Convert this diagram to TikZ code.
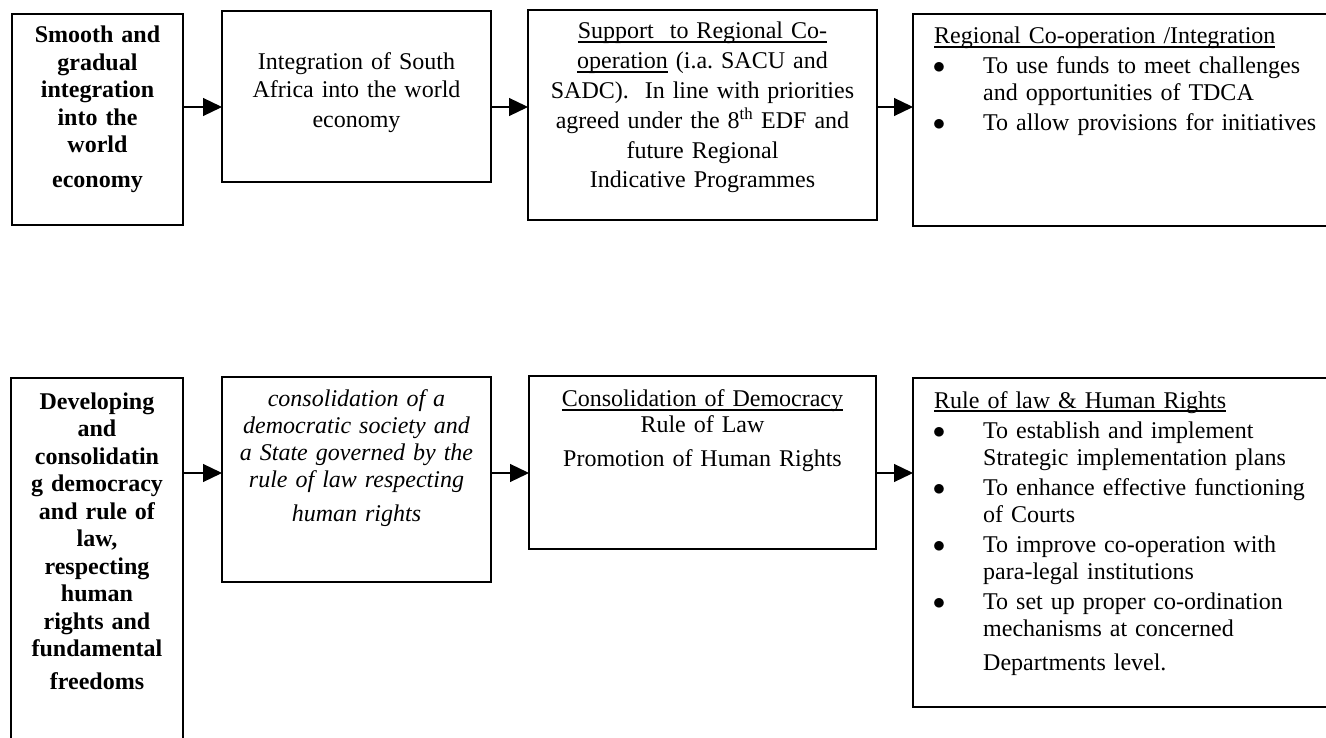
\documentclass[tikz,border=0pt]{standalone}
\usepackage{fontspec}
\setmainfont{Liberation Serif}
\usetikzlibrary{arrows.meta}
\newcommand{\undertext}[1]{\leavevmode\setbox0\hbox{#1}\rlap{\rule[-4.3pt]{\wd0}{2pt}}\box0\relax}
\newcommand{\bitem}{\hspace*{5pt}\makebox[0pt]{$\bullet$}\hspace*{44pt}}
\newcommand{\bcont}{\hspace*{49pt}}
\begin{document}
\begin{tikzpicture}[x=1pt, y=-1pt,
    box/.style={draw, line width=1.9pt, inner sep=0pt, outer sep=0pt, anchor=north west},
    lbl/.style={inner sep=0pt, anchor=base, align=center, font=\fontsize{24}{27.5}\selectfont},
    lbll/.style={lbl, anchor=base west, align=left, text width=400pt},
    arr/.style={line width=1.2pt, -{Triangle[length=19pt, width=18pt]}}]
        \useasboundingbox (0,0) rectangle (1326,738);
        \clip (0,0) rectangle (1326,738);

        \node[box, minimum width=171pt, minimum height=211pt] at (12,14)   (smooth) {};
        \node[box, minimum width=269pt, minimum height=171pt] at (222,11)  (integr) {};
        \node[box, minimum width=349pt, minimum height=210pt] at (528,10)  (support) {};
        \node[box, minimum width=450pt, minimum height=212pt] at (913,14)  (regional) {};
        \node[box, minimum width=172pt, minimum height=400pt] at (11,378)  (develop) {};
        \node[box, minimum width=269pt, minimum height=205pt] at (222,377) (consol) {};
        \node[box, minimum width=347pt, minimum height=173pt] at (529,376) (democ) {};
        \node[box, minimum width=450pt, minimum height=329pt] at (913,378) (rulelaw) {};

        \node[lbl, text width=165pt, font=\fontsize{24}{27.5}\selectfont\bfseries] at (97.5,43) (smooth-t)
            {Smooth and\\ gradual\\ integration\\ into the\\ world\\[7.5pt] economy};
        \node[lbl, text width=260pt] at (356.5,70) (integr-t)
            {Integration of South\\ Africa into the world\\[3pt] economy};
        \node[lbl, text width=340pt, font=\fontsize{24}{29.8}\selectfont] at (702.5,39) (support-t)
            {\undertext{Support\ \ to Regional Co-}\\ \undertext{operation} (i.a.\ SACU and\\ SADC).\ \ In line with priorities\\ agreed under the 8\textsuperscript{th} EDF and\\ future Regional\\ Indicative Programmes};
        \node[lbll] at (934,43.5) (regional-t)
            {\undertext{Regional Co-operation /Integration}\\[2.5pt]
             \bitem To use funds to meet challenges\\ \bcont and opportunities of TDCA\\[2.5pt]
             \bitem To allow provisions for initiatives};

        \node[lbl, text width=166pt, font=\fontsize{24}{27.5}\selectfont\bfseries] at (97,409) (develop-t)
            {Developing\\ and\\ consolidatin\\ g democracy\\ and rule of\\ law,\\ respecting\\ human\\ rights and\\ fundamental\\[5.5pt] freedoms};
        \node[lbl, text width=260pt, font=\fontsize{24}{27.3}\selectfont\itshape] at (356.5,406) (consol-t)
            {consolidation of a\\ democratic society and\\ a State governed by the\\ rule of law respecting\\[6.5pt] human rights};
        \node[lbl, text width=340pt] at (702.5,406.5) (democ-t)
            {\undertext{Consolidation of Democracy}\\[-1.5pt] Rule of Law\\[6.5pt] Promotion of Human Rights};
        \node[lbll] at (934,408) (rulelaw-t)
            {\undertext{Rule of law \& Human Rights}\\[2.5pt]
             \bitem To establish and implement\\ \bcont Strategic implementation plans\\[2pt]
             \bitem To enhance effective functioning\\ \bcont of Courts\\[2pt]
             \bitem To improve co-operation with\\ \bcont para-legal institutions\\[2pt]
             \bitem To set up proper co-ordination\\ \bcont mechanisms at concerned\\[6pt]
             \bcont Departments level.};

        \coordinate (toprow) at (0,107);
        \coordinate (botrow) at (0,473);
        \draw[arr] (smooth.east |- toprow) -- (integr.west |- toprow);
        \draw[arr] (integr.east |- toprow) -- (support.west |- toprow);
        \draw[arr] (support.east |- toprow) -- (regional.west |- toprow);
        \draw[arr] (develop.east |- botrow) -- (consol.west |- botrow);
        \draw[arr] (consol.east |- botrow) -- (democ.west |- botrow);
        \draw[arr] (democ.east |- botrow) -- (rulelaw.west |- botrow);
\end{tikzpicture}
\end{document}
